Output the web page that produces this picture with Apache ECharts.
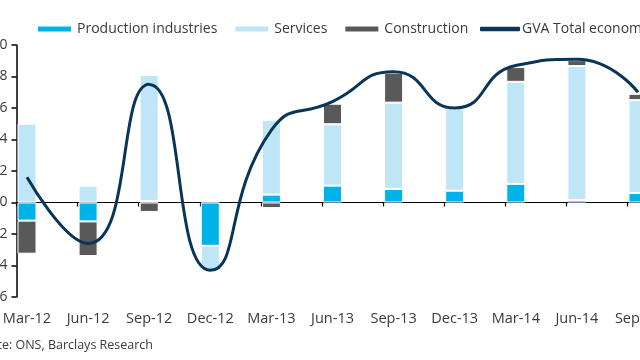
<!DOCTYPE html>
<html>
<head>
<meta charset="utf-8">
<script src="https://cdn.jsdelivr.net/npm/echarts@6/dist/echarts.min.js"></script>
<style>
html,body{margin:0;padding:0;background:#fff;}
#chart{width:640px;height:360px;}
</style>
</head>
<body>
<div id="chart"></div>
<script>
const categories = ['Mar-12','Jun-12','Sep-12','Dec-12','Mar-13','Jun-13','Sep-13','Dec-13','Mar-14','Jun-14','Sep-14'];
const production = [-0.115, -0.12, 0.01, -0.275, 0.05, 0.107, 0.086, 0.075, 0.118, 0.016, 0.06];
const services = [0.50, 0.107, 0.80, -0.155, 0.475, 0.39, 0.548, 0.52, 0.648, 0.85, 0.59];
const construction = [-0.21, -0.22, -0.06, 0.01, -0.035, 0.13, 0.19, 0, 0.094, 0.038, 0.04];
const gva = [0.16, -0.26, 0.75, -0.43, 0.46, 0.64, 0.83, 0.60, 0.87, 0.91, 0.70];
const yTicks = {min: -0.6, max: 1.0, interval: 0.2};
const seriesNames = ['Production industries', 'Services', 'Construction', 'GVA Total economy'];
const sourceText = 'Source: ONS, Barclays Research';

// layout
const W = 640;
const firstCenter = 27, step = 61.1, axisX = 16.5;
const gridALeft = firstCenter - step / 2;
const gridARightEdge = gridALeft + step * categories.length;
const gridRight = W - gridARightEdge;
const gridTop = 45, gridBottom = 63;
const font = '"Open Sans", sans-serif';
const txt = '#3a3a3a';

const chart = echarts.init(document.getElementById('chart'));
chart.setOption({
  animation: false,
  backgroundColor: '#fff',
  textStyle: {fontFamily: font},
  legend: [{
    data: seriesNames.slice(0, 3),
    left: 31, top: 17,
    itemWidth: 35, itemHeight: 7, itemGap: 16,
    icon: 'rect',
    textStyle: {fontSize: 14, color: txt, fontFamily: font}
  }, {
    data: [{name: seriesNames[3], icon: 'roundRect'}],
    left: 475, top: 17,
    itemWidth: 40, itemHeight: 4.5,
    textStyle: {fontSize: 14, color: txt, fontFamily: font, padding: [0,0,0,-3]}
  }],
  grid: [
    {left: gridALeft, right: gridRight, top: gridTop, bottom: gridBottom, outerBoundsMode: 'none', containLabel: false},
    {left: axisX, right: gridRight, top: gridTop, bottom: gridBottom, outerBoundsMode: 'none', containLabel: false}
  ],
  xAxis: [{
    type: 'category', gridIndex: 0, data: categories, boundaryGap: true,
    axisLine: {show: false, onZero: false}, axisTick: {show: false},
    axisLabel: {fontSize: 14.5, color: txt, margin: 14, interval: 0, fontFamily: font}
  }, {
    type: 'value', gridIndex: 1, min: 0, max: (gridARightEdge - axisX) / step, interval: 1,
    axisLine: {show: true, onZero: true, lineStyle: {color: '#000', width: 1.2}},
    axisTick: {show: true, length: 4, lineStyle: {color: '#000', width: 1.2}},
    axisLabel: {show: false}, splitLine: {show: false}
  }],
  yAxis: [{
    type: 'value', gridIndex: 0, min: yTicks.min, max: yTicks.max, interval: yTicks.interval,
    show: false, splitLine: {show: false}
  }, {
    type: 'value', gridIndex: 1, min: yTicks.min, max: yTicks.max, interval: yTicks.interval,
    axisLine: {show: true, lineStyle: {color: '#000', width: 1.5}},
    axisTick: {show: true, length: 5, lineStyle: {color: '#000', width: 1.5}},
    axisLabel: {fontSize: 14, color: txt, margin: 9, fontFamily: font, formatter: v => v.toFixed(1)},
    splitLine: {show: false}
  }],
  series: [{
    name: seriesNames[0], type: 'bar', stack: 'g', barWidth: 19, data: production,
    xAxisIndex: 0, yAxisIndex: 0,
    itemStyle: {color: '#00b2ea', borderColor: '#fff', borderWidth: 1}
  }, {
    name: seriesNames[1], type: 'bar', stack: 'g', barWidth: 19, data: services,
    xAxisIndex: 0, yAxisIndex: 0,
    itemStyle: {color: '#bfe6f7', borderColor: '#fff', borderWidth: 1}
  }, {
    name: seriesNames[2], type: 'bar', stack: 'g', barWidth: 19, data: construction,
    xAxisIndex: 0, yAxisIndex: 0,
    itemStyle: {color: '#595959', borderColor: '#fff', borderWidth: 1}
  }, {
    name: seriesNames[3], type: 'line', data: gva, smooth: 0.55, symbol: 'none',
    xAxisIndex: 0, yAxisIndex: 0, z: 5,
    lineStyle: {color: '#0b3556', width: 3}, itemStyle: {color: '#0b3556'}
  }],
  graphic: [{
    type: 'text', right: W - 153, top: 339,
    style: {text: sourceText, fontSize: 12.5, fill: txt, fontFamily: font}
  }]
});
</script>
</body>
</html>
